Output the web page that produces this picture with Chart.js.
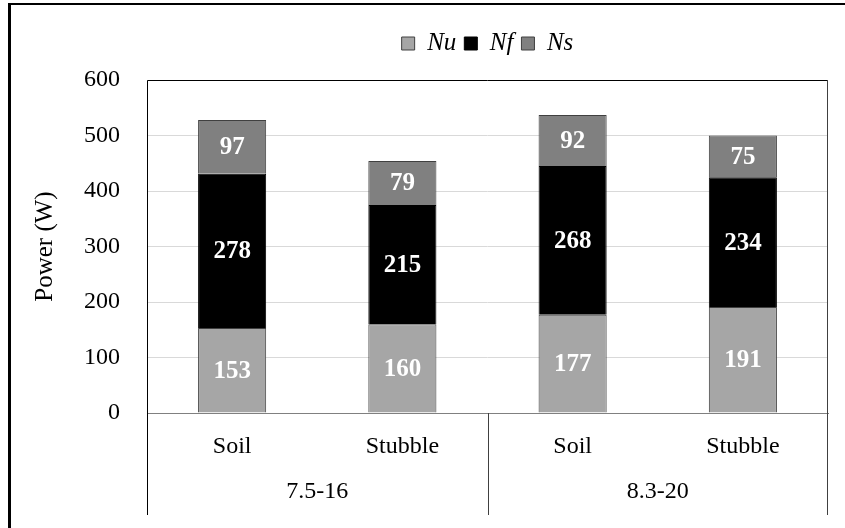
<!DOCTYPE html>
<html>
<head>
<meta charset="utf-8">
<script src="https://cdn.jsdelivr.net/npm/chart.js@4/dist/chart.umd.min.js"></script>
<style>
  html, body { margin: 0; padding: 0; background: #fff; overflow: hidden; }
  #wrap { position: relative; width: 845px; height: 528px; }
  #frame { position: absolute; left: 8px; top: 3px; width: 900px; height: 600px;
           border-left: 3px solid #000; border-top: 2px solid #000; pointer-events: none; }
</style>
</head>
<body>
<div id="wrap">
  <canvas id="chart" width="845" height="528"></canvas>
  <div id="frame"></div>
</div>
<script>
const surfaces = ['Soil', 'Stubble', 'Soil', 'Stubble'];
const groups = ['7.5-16', '8.3-20'];
const nu = [153, 160, 177, 191];
const nf = [278, 215, 268, 234];
const ns = [97, 79, 92, 75];
const yTicks = [0, 100, 200, 300, 400, 500, 600];

const serif = '"Liberation Serif", "Times New Roman", serif';

// white bold numbers in the middle of each segment
const barValues = {
    id: 'barValues',
    afterDatasetsDraw(chart) {
        const ctx = chart.ctx;
        ctx.save();
        ctx.fillStyle = '#fff';
        ctx.font = 'bold 25px ' + serif;
        ctx.textAlign = 'center';
        ctx.textBaseline = 'middle';
        chart.data.datasets.forEach((ds, i) => {
            chart.getDatasetMeta(i).data.forEach((bar, j) => {
                ctx.fillText(ds.data[j], bar.x, (bar.y + bar.base) / 2 + 1);
            });
        });
        ctx.restore();
    }
};

// plot border and the separators of the two-level category axis
const frameLines = {
    id: 'frameLines',
    afterDraw(chart) {
        const { ctx, chartArea } = chart;
        const x = chart.scales.x;
        const low = chartArea.bottom + 102;
        const mid = (x.getPixelForValue(1) + x.getPixelForValue(2)) / 2;
        ctx.save();
        ctx.lineWidth = 1;
        ctx.strokeStyle = '#000';
        ctx.beginPath();
        ctx.moveTo(x.left + 0.5, low);
        ctx.lineTo(x.left + 0.5, chartArea.top + 0.5);
        ctx.lineTo(x.right - 0.5, chartArea.top + 0.5);
        ctx.stroke();
        ctx.strokeStyle = '#404040';
        ctx.beginPath();
        ctx.moveTo(x.right - 0.5, chartArea.top);
        ctx.lineTo(x.right - 0.5, low);
        ctx.moveTo(Math.round(mid) + 0.5, chartArea.bottom);
        ctx.lineTo(Math.round(mid) + 0.5, low);
        ctx.stroke();
        ctx.restore();
    }
};

new Chart(document.getElementById('chart'), {
    type: 'bar',
    data: {
        labels: surfaces,
        datasets: [
            { label: 'Nu', data: nu, backgroundColor: '#a6a6a6', borderColor: '#404040', borderWidth: 1 },
            { label: 'Nf', data: nf, backgroundColor: '#000000', borderColor: '#000000', borderWidth: 1 },
            { label: 'Ns', data: ns, backgroundColor: '#808080', borderColor: '#404040', borderWidth: 1 }
        ]
    },
    options: {
        responsive: false,
        animation: false,
        layout: { padding: { top: 23, right: 17, bottom: 0, left: 0 } },
        datasets: { bar: { categoryPercentage: 1, barPercentage: 0.4 } },
        plugins: {
            legend: {
                position: 'top',
                fullSize: false,
                labels: {
                    boxWidth: 13, boxHeight: 13, padding: 8, color: '#000',
                    font: { family: serif, size: 25, style: 'italic' }
                }
            },
            // empty title used only as a gap between legend and plot
            title: {
                display: true, text: '', position: 'top', weight: 500, fullSize: false,
                padding: 0, font: { size: 14, lineHeight: 1 }
            },
            tooltip: { enabled: false }
        },
        scales: {
            x: {
                stacked: true,
                grid: { display: false },
                border: { display: true, color: '#808080', width: 1 },
                ticks: { color: '#000', padding: 11, font: { family: serif, size: 24 } },
                afterFit: s => { s.height = 55; }
            },
            x2: {
                type: 'category',
                position: 'bottom',
                labels: groups,
                offset: true,
                grid: { display: false },
                border: { display: false },
                ticks: { color: '#000', padding: 1, font: { family: serif, size: 24 } },
                afterFit: s => { s.height = 60; }
            },
            y: {
                stacked: true,
                min: 0,
                max: 600,
                afterBuildTicks: s => { s.ticks = yTicks.map(v => ({ value: v })); },
                grid: { color: '#d9d9d9', drawTicks: false },
                border: { display: false },
                ticks: { color: '#000', padding: 27, font: { family: serif, size: 24 } },
                title: {
                    display: true, text: 'Power (W)', color: '#000',
                    padding: { top: 30, bottom: 0 },
                    font: { family: serif, size: 25 }
                },
                afterFit: s => { s.width = 147; }
            }
        }
    },
    plugins: [barValues, frameLines]
});
</script>
</body>
</html>
